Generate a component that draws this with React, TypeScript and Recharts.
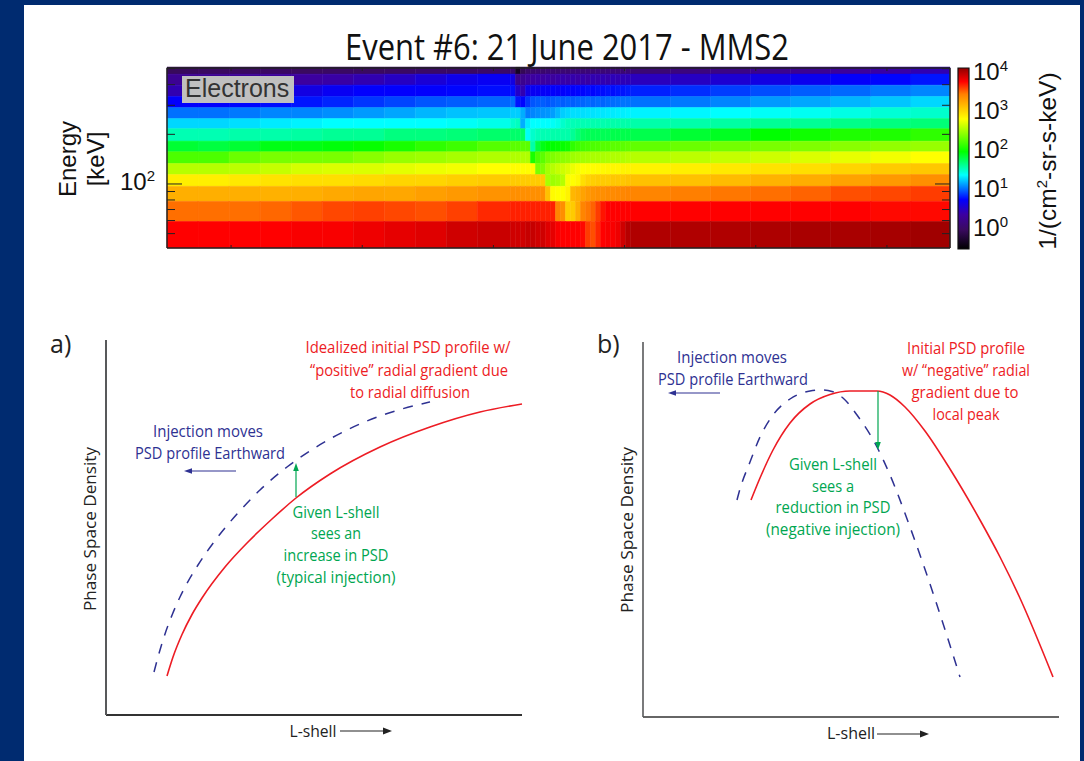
import React from 'react';
import { ComposedChart, LineChart, Line, XAxis, YAxis, ReferenceArea, ReferenceLine } from 'recharts';

// heatmap: column edges (s), channel edges (keV, high to low), log10 flux per channel
const timeEdges = [0, 31, 62, 93, 124, 155, 186, 217, 248, 279, 310, 343, 348, 353, 358, 363, 368, 373, 378, 383, 388, 393, 398, 403, 408, 413, 418, 423, 428, 433, 438, 443, 448, 453, 458, 463, 503, 543, 583, 623, 663, 703, 743, 782];
const energyEdges = [505, 457.7, 392.6, 335.3, 287.6, 246.7, 214.5, 180.4, 155.6, 132.2, 113.4, 96.3, 78.1, 59.1, 40.9];
const timeTicks = [64, 195, 326, 457, 588, 719];
const energyTicks = [50, 60, 70, 80, 90, 100, 200, 300, 400, 500];

const ch0 = [-.12, -.1, -.1, -.08, -.1, -.08, -.1, -.08, -.06, -.08, -.05,
  -.05, -.42, -.15, -.05, -.02, 0, -.02, .02, 0, -.03, .02, 0, .03, .05, .02, .05, .02, .06, .03, .06, .04, .03, .02, .04,
  .02, .08, .12, .18, .2, .25, .3, .35];
const ch1 = [.2, .2, .22, .25, .28, .3, .35, .42, .5, .58, .62,
  .55, .15, .18, .25, .28, .3, .28, .3, .26, .3, .32, .3, .33, .3, .33, .3, .35, .33, .36, .33, .38, .36, .38, .38,
  .4, .42, .48, .55, .6, .65, .68, .72];
const ch2 = [.35, .38, .42, .48, .55, .62, .66, .66, .66, .68, .7,
  .7, .45, .35, .58, .62, .62, .64, .64, .66, .64, .66, .68, .66, .68, .68, .7, .68, .7, .7, .72, .7, .72, .72, .74,
  .75, .78, .82, .86, .9, .93, .97, 1.0];
const ch3 = [.66, .66, .68, .7, .72, .76, .8, .84, .88, .9, .92,
  .94, .72, .68, .8, .88, .9, .9, .88, .9, .92, .9, .92, .9, .92, .92, .94, .92, .94, .92, .94, .94, .95, .96, .96,
  .95, .97, 1.0, 1.05, 1.08, 1.12, 1.16, 1.2];
const ch4 = [.95, .95, .97, 1.0, 1.0, 1.02, 1.05, 1.08, 1.12, 1.15, 1.16,
  1.18, 1.18, 1.1, .98, 1.0, 1.02, 1.03, 1.04, 1.06, 1.12, 1.18, 1.2, 1.22, 1.22, 1.22, 1.23, 1.23, 1.24, 1.24, 1.25, 1.25, 1.26, 1.26, 1.27,
  1.27, 1.28, 1.3, 1.32, 1.33, 1.36, 1.4, 1.42];
const ch5 = [1.2, 1.2, 1.22, 1.25, 1.27, 1.3, 1.3, 1.3, 1.3, 1.32, 1.35,
  1.42, 1.45, 1.1, 1.25, 1.3, 1.3, 1.3, 1.3, 1.32, 1.35, 1.42, 1.46, 1.47, 1.48, 1.48, 1.48, 1.49, 1.49, 1.49, 1.5, 1.5, 1.5, 1.5, 1.5,
  1.5, 1.5, 1.52, 1.55, 1.55, 1.58, 1.6, 1.62];
const ch6 = [1.48, 1.48, 1.5, 1.5, 1.52, 1.55, 1.55, 1.6, 1.6, 1.62, 1.65,
  1.65, 1.65, 1.66, 1.32, 1.42, 1.46, 1.48, 1.48, 1.5, 1.5, 1.5, 1.5, 1.55, 1.62, 1.68, 1.7, 1.7, 1.7, 1.7, 1.7, 1.72, 1.72, 1.72, 1.72,
  1.72, 1.78, 1.82, 1.9, 1.95, 2.0, 2.0, 2.05];
const ch7 = [1.78, 1.75, 1.78, 1.85, 1.85, 1.88, 1.92, 1.98, 2.05, 2.1, 2.18,
  2.2, 2.2, 2.2, 2.2, 1.5, 1.75, 1.85, 1.9, 1.9, 1.92, 1.92, 1.95, 2.05, 2.1, 2.12, 2.14, 2.15, 2.16, 2.18, 2.18, 2.2, 2.2, 2.2, 2.22,
  2.22, 2.25, 2.28, 2.3, 2.32, 2.35, 2.38, 2.4];
const ch8 = [2.15, 2.15, 2.25, 2.3, 2.3, 2.3, 2.35, 2.4, 2.42, 2.45, 2.48,
  2.48, 2.48, 2.48, 2.48, 1.98, 2.15, 2.2, 2.3, 2.32, 2.35, 2.36, 2.38, 2.42, 2.44, 2.44, 2.45, 2.46, 2.46, 2.46, 2.47, 2.48, 2.48, 2.48, 2.5,
  2.5, 2.52, 2.55, 2.58, 2.62, 2.66, 2.7, 2.74];
const ch9 = [2.5, 2.5, 2.52, 2.55, 2.6, 2.62, 2.62, 2.65, 2.68, 2.7, 2.74,
  2.75, 2.75, 2.75, 2.75, 2.75, 2.3, 2.32, 2.45, 2.5, 2.55, 2.58, 2.62, 2.68, 2.72, 2.74, 2.75, 2.75, 2.76, 2.77, 2.78, 2.78, 2.78, 2.8, 2.8,
  2.8, 2.82, 2.85, 2.88, 2.9, 2.95, 3.0, 3.02];
const ch10 = [2.82, 2.82, 2.85, 2.88, 2.9, 2.9, 2.92, 2.95, 2.95, 2.98, 3.0,
  3.0, 3.0, 3.0, 3.0, 3.0, 3.0, 3.0, 2.45, 2.42, 2.45, 2.5, 2.72, 2.74, 2.78, 2.9, 2.96, 2.98, 3.0, 3.0, 3.0, 3.02, 3.02, 3.02, 3.04,
  3.05, 3.05, 3.08, 3.12, 3.15, 3.2, 3.25, 3.3];
const ch11 = [3.14, 3.14, 3.14, 3.13, 3.14, 3.17, 3.19, 3.18, 3.22, 3.25, 3.28,
  3.3, 3.3, 3.3, 3.3, 3.3, 3.3, 3.3, 3.05, 2.76, 2.74, 2.74, 2.8, 3.1, 3.14, 3.2, 3.25, 3.28, 3.3, 3.3, 3.32, 3.32, 3.33, 3.34, 3.35,
  3.35, 3.38, 3.4, 3.42, 3.45, 3.5, 3.52, 3.55];
const ch12 = [3.42, 3.42, 3.42, 3.44, 3.48, 3.52, 3.54, 3.52, 3.5, 3.54, 3.6,
  3.62, 3.62, 3.62, 3.62, 3.62, 3.62, 3.62, 3.62, 3.62, 3.35, 3.3, 2.98, 3.0, 3.15, 3.35, 3.4, 3.45, 3.55, 3.65, 3.7, 3.7, 3.7, 3.7, 3.7,
  3.7, 3.7, 3.7, 3.7, 3.7, 3.7, 3.68, 3.68];
const ch13 = [3.7, 3.7, 3.7, 3.7, 3.72, 3.72, 3.75, 3.78, 3.8, 3.85, 3.87,
  3.85, 3.85, 3.85, 3.88, 3.88, 3.85, 3.85, 3.8, 3.78, 3.72, 3.7, 3.7, 3.7, 3.7, 3.68, 3.55, 3.5, 3.6, 3.7, 3.72, 3.72, 3.75, 3.85, 3.93,
  3.95, 3.95, 3.95, 3.96, 3.97, 3.97, 3.98, 4.0];
const channels = [ch0, ch1, ch2, ch3, ch4, ch5, ch6, ch7, ch8, ch9, ch10, ch11, ch12, ch13];

// colour table
const paletteLevels = [-0.6, -0.1, 0.28, 0.67, 1.3, 1.9, 2.74, 3.38, 3.7, 4.05];
const paletteColors = ['#000000', '#3a0a60', '#3c00a0', '#0000ff', '#00ffff', '#00ff00', '#ffff00', '#ff7f00', '#ff0000', '#900000'];
const fluxTicks = [0, 1, 2, 3, 4];

// panel a) curves, L-shell / PSD in plot units
const redAL = [61, 67, 76, 86, 96, 119, 142, 166, 190, 224, 274, 324, 374, 416];
const redAPsd = [39, 58, 80.5, 100.5, 117, 148, 173, 196, 217, 241, 268, 288, 303, 311];
const dashAL = [48, 54, 60, 66.5, 74, 92, 111, 131, 154, 181, 207, 241, 274, 307, 324];
const dashAPsd = [43, 65, 84, 101, 118, 150, 177, 201, 225, 248, 266, 285, 299, 309, 313];

// panel b) curves
const redBL = [108, 117, 130, 147, 167, 187, 207, 234, 247, 262, 282, 307, 337, 357, 376, 410];
const redBPsd = [217, 239, 267, 294, 313, 322.5, 326, 326, 322, 310, 286, 248, 197, 160, 121, 40];
const dashBL = [94, 97, 107, 117, 130, 147, 167, 179, 189, 200, 214, 234, 247, 267, 293, 317];
const dashBPsd = [217, 228, 255, 280, 302, 318, 326, 327, 325.5, 319, 302, 270, 242, 190, 115, 40];

const blue = '#2e3192';
const red = '#ed1c24';
const green = '#00a651';
const hand = '"Open Sans", sans-serif';
const helv = '"Liberation Sans", Arial, sans-serif';

function mix(a: string, b: string, t: number) {
  const out = [1, 3, 5].map(i => {
    const p = parseInt(a.slice(i, i + 2), 16);
    const q = parseInt(b.slice(i, i + 2), 16);
    return Math.round(p + (q - p) * t).toString(16).padStart(2, '0');
  });
  return '#' + out.join('');
}

function fluxColor(v: number) {
  for (let i = 0; i < paletteLevels.length - 1; i++) {
    if (v <= paletteLevels[i + 1]) {
      return mix(paletteColors[i], paletteColors[i + 1], Math.max(0, (v - paletteLevels[i]) / (paletteLevels[i + 1] - paletteLevels[i])));
    }
  }
  return paletteColors[paletteColors.length - 1];
}

const energyTick = (side: number) => (props: any) => {
  const major = props.payload.value === 100;
  const len = major ? 15 : 8;
  return (
    <g>
      <line x1={props.x} x2={props.x + side * len} y1={props.y} y2={props.y} stroke="#222" strokeWidth={1} />
      {major && side > 0 && (
        <text x={155} y={props.y + 6} textAnchor="end" fontFamily={helv} fontSize={24} fill="#111">
          10<tspan dy={-9} fontSize={15}>2</tspan>
        </text>
      )}
    </g>
  );
};

const timeTick = (side: number) => (props: any) => (
  <line x1={props.x} x2={props.x} y1={props.y} y2={props.y + side * 3} stroke="#222" strokeWidth={1} />
);

const fluxTick = (props: any) => (
  <text x={973} y={props.y + 10.5} fontFamily={helv} fontSize={24} fill="#111">
    10<tspan dy={-9} fontSize={15}>{props.payload.value}</tspan>
  </text>
);

// Line series with no stroke, so the axes get scales and ticks
const axisAnchor = [{ t: 0, e: 40.9 }, { t: 782, e: 505 }];
const heatMargin = { left: 166, top: 67, right: 134, bottom: 51 };

function Heatmap() {
  return (
    <ComposedChart width={1084} height={300} margin={heatMargin}>
      <XAxis type="number" dataKey="t" domain={[0, 782]} height={1} tick={false} axisLine={false} tickLine={false} />
      <YAxis type="number" scale="log" domain={[40.9, 505]} width={1} tick={false} axisLine={false} tickLine={false} />
      <Line data={axisAnchor} dataKey="e" stroke="none" dot={false} isAnimationActive={false} />
      {channels.map((row, r) =>
        row.map((v, c) => (
          <ReferenceArea
            key={`${r}-${c}`}
            x1={timeEdges[c]}
            x2={timeEdges[c + 1]}
            y1={energyEdges[r + 1]}
            y2={energyEdges[r]}
            fill={fluxColor(v)}
            fillOpacity={1}
            stroke={fluxColor(v)}
            strokeWidth={0.5}
          />
        ))
      )}
    </ComposedChart>
  );
}

// frame and inward ticks sit in a second chart so the cells cannot cover them
function HeatmapAxes() {
  return (
    <ComposedChart width={1084} height={300} margin={{ ...heatMargin, right: 133 }}>
      <XAxis xAxisId="b" type="number" dataKey="t" domain={[0, 782]} ticks={timeTicks} height={1} tickSize={0} tickMargin={0} stroke="#222" strokeWidth={1.5} tick={timeTick(-1)} tickLine={false} />
      <XAxis xAxisId="t" orientation="top" type="number" dataKey="t" domain={[0, 782]} ticks={timeTicks} height={1} tickSize={0} tickMargin={0} stroke="#222" strokeWidth={1.5} tick={timeTick(1)} tickLine={false} />
      <YAxis yAxisId="l" type="number" scale="log" domain={[40.9, 505]} ticks={energyTicks} interval={0} width={1} tickSize={0} tickMargin={0} stroke="#222" strokeWidth={1.5} tick={energyTick(1)} tickLine={false} />
      <YAxis yAxisId="r" orientation="right" type="number" scale="log" domain={[40.9, 505]} ticks={energyTicks} interval={0} width={1} tickSize={0} tickMargin={0} stroke="#222" strokeWidth={1.5} tick={energyTick(-1)} tickLine={false} />
      <Line data={axisAnchor} dataKey="e" xAxisId="b" yAxisId="l" stroke="none" dot={false} isAnimationActive={false} />
      <Line data={axisAnchor} dataKey="e" xAxisId="t" yAxisId="r" stroke="none" dot={false} isAnimationActive={false} />
    </ComposedChart>
  );
}

function ColorBar() {
  const lo = paletteLevels[0];
  const hi = paletteLevels[paletteLevels.length - 1];
  return (
    <ComposedChart width={1084} height={300} margin={{ left: 958, top: 68, right: 114, bottom: 51 }}>
      <defs>
        <linearGradient id="fluxBar" x1="0" y1="1" x2="0" y2="0">
          {paletteLevels.map((v, i) => (
            <stop key={v} offset={(v - lo) / (hi - lo)} stopColor={paletteColors[i]} />
          ))}
        </linearGradient>
      </defs>
      <XAxis type="number" dataKey="x" domain={[0, 1]} hide />
      <YAxis orientation="right" type="number" domain={[lo, hi]} ticks={fluxTicks} interval={0} width={1} axisLine={false} tickLine={false} tick={fluxTick} />
      <Line data={[{ x: 0, v: lo }, { x: 1, v: hi }]} dataKey="v" stroke="none" dot={false} isAnimationActive={false} />
      <ReferenceArea x1={0} x2={1} y1={lo} y2={hi} fill="url(#fluxBar)" fillOpacity={1} stroke="#111" strokeWidth={1.2} />
    </ComposedChart>
  );
}

const arrow = (color: string) => (props: any) => {
  const { x1, y1, x2, y2 } = props;
  const len = Math.hypot(x2 - x1, y2 - y1);
  const ux = (x2 - x1) / len;
  const uy = (y2 - y1) / len;
  const bx = x2 - ux * 8;
  const by = y2 - uy * 8;
  return (
    <g>
      <line x1={x1} y1={y1} x2={bx} y2={by} stroke={color} strokeWidth={1.2} />
      <polygon points={`${x2},${y2} ${bx - uy * 2.8},${by + ux * 2.8} ${bx + uy * 2.8},${by - ux * 2.8}`} fill={color} />
    </g>
  );
};

function toPoints(xs: number[], ys: number[]) {
  return xs.map((x, i) => ({ l: x, psd: ys[i] }));
}

function Panel({ redL, redPsd, dashL, dashPsd, green: g, move, axis }: any) {
  return (
    <LineChart width={440} height={400} margin={{ left: 15, top: 10, right: 8, bottom: 14 }}>
      <XAxis type="number" dataKey="l" domain={[0, 416]} height={1} tick={false} tickLine={false} stroke="#333" strokeWidth={axis} />
      <YAxis type="number" dataKey="psd" domain={[0, 375]} width={1} tick={false} tickLine={false} stroke="#58595b" strokeWidth={axis} />
      <Line data={toPoints(dashL, dashPsd)} dataKey="psd" type="monotone" stroke={blue} strokeWidth={1.5} strokeDasharray="10 9" dot={false} isAnimationActive={false} />
      <Line data={toPoints(redL, redPsd)} dataKey="psd" type="monotone" stroke={red} strokeWidth={1.6} dot={false} isAnimationActive={false} />
      <ReferenceLine segment={g} shape={arrow(green)} />
      <ReferenceLine segment={move} shape={arrow(blue)} />
    </LineChart>
  );
}

function Note({ x, y, w, size = 17, color, children }: any) {
  return (
    <text x={x} y={y} textAnchor="middle" fontFamily={hand} fontSize={size} fill={color} textLength={w} lengthAdjust="spacingAndGlyphs">
      {children}
    </text>
  );
}

function Overlay() {
  return (
    <svg width={1084} height={761} style={{ position: 'absolute', left: 0, top: 0, pointerEvents: 'none' }}>
      <Note x={567} y={60} w={444} size={36} color="#111">Event #6: 21 June 2017 - MMS2</Note>
      <rect x={182} y={76} width={112} height={27} fill="#c0c0c0" />
      <text x={185} y={97} fontFamily={helv} fontSize={25} fill="#333">Electrons</text>
      <text transform="rotate(-90 76 159)" x={76} y={159} textAnchor="middle" fontFamily={helv} fontSize={24} fill="#111">Energy</text>
      <text transform="rotate(-90 104 159)" x={104} y={159} textAnchor="middle" fontFamily={helv} fontSize={24} fill="#111">[keV]</text>
      <text transform="rotate(-90 1056 161)" x={1056} y={161} textAnchor="middle" fontFamily={helv} fontSize={24.5} fill="#111">
        1/(cm<tspan dy={-9} fontSize={15}>2</tspan><tspan dy={9}>-sr-s-keV)</tspan>
      </text>

      <text x={50} y={353} fontFamily={hand} fontSize={25} fill="#222">a)</text>
      <Note x={408} y={353} w={205} color={red}>Idealized initial PSD profile w/</Note>
      <Note x={409} y={376} w={198} color={red}>“positive” radial gradient due</Note>
      <Note x={410} y={398} w={120} color={red}>to radial diffusion</Note>
      <Note x={208} y={437} w={110} color={blue}>Injection moves</Note>
      <Note x={210} y={459} w={150} color={blue}>PSD profile Earthward</Note>
      <Note x={336} y={518} w={87} color={green}>Given L-shell</Note>
      <Note x={336} y={539} w={50} color={green}>sees an</Note>
      <Note x={336} y={561} w={105} color={green}>increase in PSD</Note>
      <Note x={336} y={583} w={119} color={green}>(typical injection)</Note>
      <g transform="rotate(-90 96 529)"><Note x={96} y={529} w={164} color="#222">Phase Space Density</Note></g>
      <Note x={313} y={737} w={47} color="#222">L-shell</Note>
      <line x1={340} x2={384} y1={731} y2={731} stroke="#222" strokeWidth={1.2} />
      <polygon points="392,731 383,727.5 383,734.5" fill="#222" />

      <text x={597} y={353} fontFamily={hand} fontSize={25} fill="#222">b)</text>
      <Note x={732} y={363} w={110} color={blue}>Injection moves</Note>
      <Note x={733} y={385} w={150} color={blue}>PSD profile Earthward</Note>
      <Note x={966} y={354} w={118} color={red}>Initial PSD profile</Note>
      <Note x={966} y={376} w={128} color={red}>w/ “negative” radial</Note>
      <Note x={965} y={398} w={107} color={red}>gradient due to</Note>
      <Note x={966} y={420} w={67} color={red}>local peak</Note>
      <Note x={833} y={470} w={88} color={green}>Given L-shell</Note>
      <Note x={833} y={492} w={42} color={green}>sees a</Note>
      <Note x={833} y={513} w={115} color={green}>reduction in PSD</Note>
      <Note x={833} y={535} w={134} color={green}>(negative injection)</Note>
      <g transform="rotate(-90 633 530)"><Note x={633} y={530} w={166} color="#222">Phase Space Density</Note></g>
      <Note x={851} y={739} w={48} color="#222">L-shell</Note>
      <line x1={877} x2={921} y1={734} y2={734} stroke="#222" strokeWidth={1.2} />
      <polygon points="929,734 920,730.5 920,737.5" fill="#222" />
    </svg>
  );
}

export default function App() {
  return (
    <div style={{ position: 'absolute', left: 0, top: 0, width: 1084, height: 761, background: '#002b70', overflow: 'hidden' }}>
      <div style={{ position: 'absolute', left: 24, top: 5, width: 1056, height: 756, background: '#fff' }} />
      <div style={{ position: 'absolute', left: 0, top: 0 }}><Heatmap /></div>
      <div style={{ position: 'absolute', left: 0, top: 0 }}><HeatmapAxes /></div>
      <div style={{ position: 'absolute', left: 0, top: 0 }}><ColorBar /></div>
      <div style={{ position: 'absolute', left: 90, top: 330 }}>
        <Panel
          redL={redAL} redPsd={redAPsd} dashL={dashAL} dashPsd={dashAPsd} axis={2}
          green={[{ x: 190, y: 218 }, { x: 190, y: 252 }]}
          move={[{ x: 130, y: 244 }, { x: 78, y: 244 }]}
        />
      </div>
      <div style={{ position: 'absolute', left: 627, top: 332 }}>
        <Panel
          redL={redBL} redPsd={redBPsd} dashL={dashBL} dashPsd={dashBPsd} axis={1.6}
          green={[{ x: 235, y: 326 }, { x: 235, y: 267 }]}
          move={[{ x: 77, y: 324 }, { x: 25, y: 324 }]}
        />
      </div>
      <Overlay />
    </div>
  );
}
